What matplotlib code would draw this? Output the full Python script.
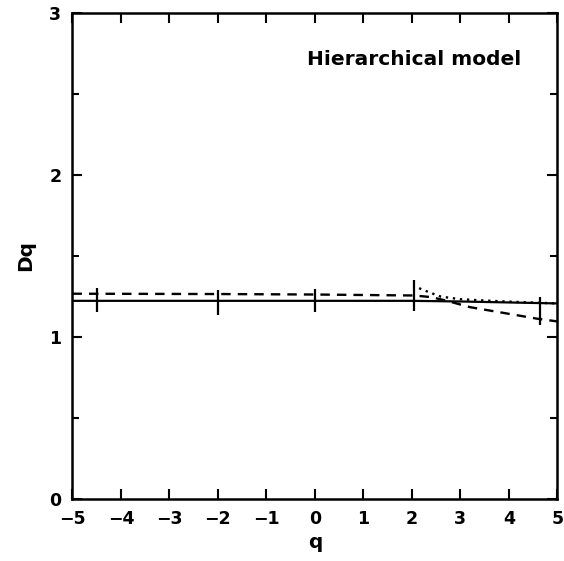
import matplotlib
matplotlib.use("Agg")
import matplotlib.pyplot as plt
from matplotlib.ticker import MultipleLocator

# Data
solid_q = [-5, -2, 0, 2, 3, 4, 5]
solid_D = [1.222, 1.222, 1.222, 1.222, 1.218, 1.212, 1.206]

dashed_q = [-5, -2, 0, 2.05, 2.4, 2.7, 3.2, 4.6, 5]
dashed_D = [1.266, 1.264, 1.261, 1.255, 1.245, 1.224, 1.183, 1.111, 1.095]

dotted_q = [2.15, 2.4, 2.6, 3.0, 3.5, 4.0, 5.0]
dotted_D = [1.30, 1.27, 1.248, 1.232, 1.224, 1.217, 1.206]

err_q = [-4.5, -2.0, 0.0, 2.05, 4.65]
err_D = [1.227, 1.209, 1.224, 1.255, 1.157]
err_h = [0.077, 0.077, 0.074, 0.093, 0.087]

x_ticks = [-5, -4, -3, -2, -1, 0, 1, 2, 3, 4, 5]
y_ticks = [0, 1, 2, 3]

fig = plt.figure(figsize=(5.64, 5.61), dpi=100)
ax = fig.add_axes([0.1285, 0.111, 0.8595, 0.8660])

ax.plot(solid_q, solid_D, color="black", lw=1.6, ls="-")
ax.plot(dashed_q, dashed_D, color="black", lw=1.7, ls=(0, (4, 3)))
ax.plot(dotted_q, dotted_D, color="black", lw=1.7, ls=(0, (1, 2)))
ax.errorbar(err_q, err_D, yerr=err_h, fmt="none", ecolor="black",
            elinewidth=1.6, capsize=0)

ax.set_xlim(-5, 5)
ax.set_ylim(0, 3)
ax.set_xticks(x_ticks)
ax.set_xticklabels([str(t).replace("-", "\u2212") for t in x_ticks])
ax.set_yticks(y_ticks)
ax.yaxis.set_minor_locator(MultipleLocator(0.5))

ax.tick_params(which="both", direction="in", top=True, right=True,
               width=1.5, labelsize=12.5, pad=8)
ax.tick_params(which="major", length=7)
ax.tick_params(which="minor", length=5)
for lab in ax.get_xticklabels() + ax.get_yticklabels():
    lab.set_fontweight("bold")
for s in ax.spines.values():
    s.set_linewidth(1.8)

ax.set_xlabel("q", fontsize=14.5, fontweight="bold", labelpad=4)
ax.set_ylabel("Dq", fontsize=14.5, fontweight="bold", labelpad=10)

ax.text(0.925, 0.905, "Hierarchical model", transform=ax.transAxes,
        ha="right", va="center", fontsize=14.5, fontweight="bold")

fig.savefig("out.png", dpi=100)
